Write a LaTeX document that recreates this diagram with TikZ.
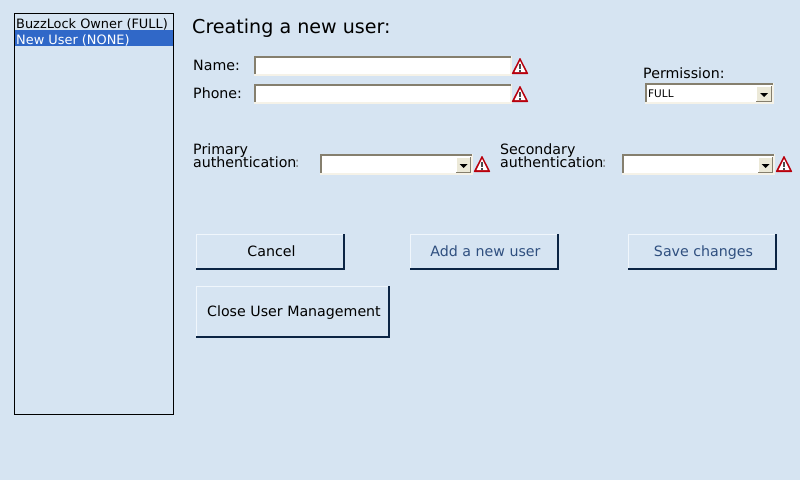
\documentclass[tikz,border=0pt]{standalone}
\usepackage{fontspec}
\setmainfont{DejaVu Sans}
\usepackage{xcolor}
\definecolor{panelbg}{HTML}{D6E4F2}
\definecolor{selrow}{HTML}{3068C8}
\definecolor{btndark}{HTML}{0B2444}
\definecolor{btnlight}{HTML}{F0F6FC}
\definecolor{fielddark}{HTML}{857F6E}
\definecolor{fieldlight}{HTML}{F5F2E8}
\definecolor{arrowbg}{HTML}{ECE9D8}
\definecolor{greytext}{HTML}{2F4F7F}
\definecolor{warnred}{HTML}{B8000C}
\tikzset{
  lbl/.style={anchor=base west,inner sep=0pt,font=\fontsize{14.2}{13}\selectfont,text=black},
  listlbl/.style={anchor=base west,inner sep=0pt,font=\fontsize{12.9}{13}\selectfont,text=black},
  small/.style={anchor=base west,inner sep=0pt,font=\fontsize{10.5}{12}\selectfont},
}
% raised button: x1,y1,x2,y2,name,text colour,text
\newcommand{\btn}[7]{
  \fill[panelbg] (#1,#2) rectangle (#3,#4);
  \draw[btnlight,line width=1pt] (#1+0.5,#4) -- (#1+0.5,#2+0.5) -- (#3,#2+0.5);
  \draw[btndark,line width=2pt] (#1,#4-1) -- (#3-1,#4-1) -- (#3-1,#2);
  \node[lbl,anchor=center,text=#6] (#5) at ({(#1+#3)/2+1},{(#2+#4)/2+1}) {\vphantom{Ag}#7};
}
% sunken field
\newcommand{\field}[4]{
  \fill[white] (#1,#2) rectangle (#3,#4);
  \draw[fieldlight,line width=2pt] (#1,#4-1) -- (#3-1,#4-1) -- (#3-1,#2);
  \draw[fielddark,line width=2pt] (#1+1,#4-2) -- (#1+1,#2+1) -- (#3-1,#2+1);
}
% arrow part of a combo box
\newcommand{\combobtn}[4]{
  \fill[arrowbg] (#1,#2) rectangle (#3,#4);
  \draw[fielddark,line width=1pt] (#1,#4-0.5) -- (#3-0.5,#4-0.5) -- (#3-0.5,#2);
  \draw[white,line width=1pt] (#1+0.5,#4-1) -- (#1+0.5,#2+0.5) -- (#3-1,#2+0.5);
  \fill[black] ({(#1+#3)/2-4},{(#2+#4)/2-1}) -- ({(#1+#3)/2+4},{(#2+#4)/2-1}) -- ({(#1+#3)/2},{(#2+#4)/2+3}) -- cycle;
}
\begin{document}
\begin{tikzpicture}[x=1pt,y=-1pt]
\fill[panelbg] (0,0) rectangle (800,480);
\useasboundingbox (0,0) rectangle (800,480);
% user list
\draw[black,line width=1pt] (14.5,13.5) rectangle (173.5,414.5);
\fill[selrow] (15,30) rectangle (173,46);
\node[listlbl] (owner) at (16,28) {BuzzLock Owner (FULL)};
\node[listlbl,text=white] (newuser) at (16,44) {New User (NONE)};
% headings and labels
\node[lbl,font=\fontsize{19.1}{20}\selectfont] (title) at (192,33) {Creating a new user:};
\node[lbl] (name) at (193,70) {Name:};
\node[lbl] (phone) at (193,98) {Phone:};
\node[lbl] (perm) at (643,78) {Permission:};
\node[lbl] (prim) at (193,154) {Primary};
\node[lbl] (primb) at (193,167) {authentication\kern-1.5pt{\color{gray}:}};
\node[lbl] (sec) at (500,154) {Secondary};
\node[lbl] (secb) at (500,167) {authentication\kern-1.5pt{\color{gray}:}};
% text fields and combo boxes
\field{254}{56}{512}{76}
\field{254}{84}{512}{104}
\field{645}{83}{774}{104}
\combobtn{756}{86}{772}{102}
\node[small] (full) at (648,97) {FULL};
\field{320}{154}{473}{175}
\combobtn{456}{157}{471}{173}
\field{622}{154}{775}{175}
\combobtn{758}{157}{773}{173}
% warning icons
\foreach \wx/\wy/\wname in {520/74/wname,520/102/wphone,482/172/wprim,784/172/wsec}{
  \fill[warnred,rounded corners=0.8pt] (\wx-8.5,\wy) -- (\wx,\wy-16.5) -- (\wx+8.5,\wy) -- cycle;
  \fill[white] (\wx-5.5,\wy-2) -- (\wx,\wy-13) -- (\wx+5.5,\wy-2) -- cycle;
  \fill[black!70] (\wx-1.2,\wy-10.5) rectangle (\wx+1.2,\wy-5.5);
  \fill[black!70] (\wx-1.2,\wy-4.5) rectangle (\wx+1.2,\wy-2.5);
}
% buttons
\btn{196}{234}{345}{270}{cancel}{black}{Cancel}
\btn{410}{234}{559}{270}{add}{greytext}{Add a new user}
\btn{628}{234}{777}{270}{save}{greytext}{Save changes}
\btn{196}{286}{390}{338}{close}{black}{Close User Management}
\end{tikzpicture}
\end{document}
